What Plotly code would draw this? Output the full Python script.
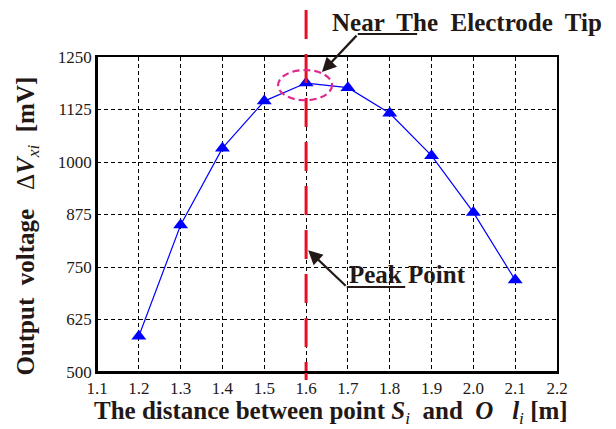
import plotly.graph_objects as go

# Measured output voltage along the line between point S_i and O l_i
distance_m = [1.2, 1.3, 1.4, 1.5, 1.6, 1.7, 1.8, 1.9, 2.0, 2.1]
voltage_mv = [585, 850, 1033, 1145, 1188, 1177, 1116, 1015, 880, 719]

x_ticks = [1.1, 1.2, 1.3, 1.4, 1.5, 1.6, 1.7, 1.8, 1.9, 2.0, 2.1, 2.2]
y_ticks = [500, 625, 750, 875, 1000, 1125, 1250]

peak_x = 1.6

SERIF = "Liberation Serif, Times New Roman, serif"
INK = "#231815"

fig = go.Figure()

fig.add_trace(go.Scatter(
    x=distance_m, y=voltage_mv,
    mode="lines+markers",
    line=dict(color="#0000ff", width=1.2),
    marker=dict(symbol="triangle-up", size=13, color="#0000ff"),
    showlegend=False,
    cliponaxis=False,
))

shapes = [
    # vertical marker through the peak, running past the plot frame
    dict(type="line", xref="x", yref="paper", x0=peak_x, x1=peak_x,
         y0=1.149, y1=-0.025,
         line=dict(color="#e60f26", width=3, dash="29px,15px")),
    # dashed ellipse around the peak
    dict(type="circle", xref="x", yref="y",
         x0=1.533, x1=1.662, y0=1147, y1=1219,
         line=dict(color="#e0288c", width=2.2, dash="7px,4px")),
    # leader underlines
    dict(type="line", xref="paper", yref="paper", x0=0.567, x1=0.696,
         y0=1.073, y1=1.073, line=dict(color=INK, width=2)),
    dict(type="line", xref="paper", yref="paper", x0=0.543, x1=0.670,
         y0=0.270, y1=0.270, line=dict(color=INK, width=2)),
    # heavier left and bottom frame edges
    dict(type="line", xref="paper", yref="paper", x0=0, x1=1, y0=0, y1=0,
         line=dict(color="black", width=2)),
    dict(type="line", xref="paper", yref="paper", x0=0, x1=0, y0=0, y1=1,
         line=dict(color="black", width=2)),
]


def label(x, y, text, size=25, angle=0):
    return dict(x=x, y=y, xref="paper", yref="paper", showarrow=False,
                xanchor="center", yanchor="middle", textangle=angle,
                text=text, font=dict(family=SERIF, size=size, color=INK))


annotations = [
    dict(x=1.638, y=1214, xref="x", yref="y", ax=36, ay=-38, text="",
         showarrow=True, arrowhead=2, arrowsize=1.3, arrowwidth=2.2,
         arrowcolor=INK),
    dict(x=1.605, y=790, xref="x", yref="y", ax=39, ay=37, text="",
         showarrow=True, arrowhead=2, arrowsize=1.3, arrowwidth=2.2,
         arrowcolor=INK),
    label(0.804, 1.111, "<b>Near  The  Electrode  Tip</b>"),
    label(0.674, 0.311, "<b>Peak Point</b>"),
    label(0.508, -0.127,
          "<b>The distance between point <i>S</i></b><sub><i>i</i></sub>"
          "<b>  and  <i>O</i>   <i>l</i></b><sub><i>i</i></sub><b> [m]</b>"),
    label(-0.152, 0.462,
          "<b>Output  voltage</b>   Δ<b><i>V</i></b><sub><i>xi</i></sub>"
          "  <b>[mV]</b>", angle=-90),
]

axis_common = dict(
    showline=True, mirror=True, linecolor="black", linewidth=1.5,
    showgrid=True, gridcolor="black", gridwidth=1, griddash="4px,3px",
    zeroline=False, ticks="",
    tickfont=dict(family=SERIF, size=17, color=INK),
)

fig.update_layout(
    width=616, height=429,
    margin=dict(l=97, r=59, t=57, b=57),
    paper_bgcolor="white", plot_bgcolor="white",
    xaxis=dict(range=[1.1, 2.2], tickvals=x_ticks,
               ticktext=[f"{v:.1f}" for v in x_ticks], **axis_common),
    yaxis=dict(range=[500, 1250], tickvals=y_ticks,
               ticktext=[str(v) for v in y_ticks], **axis_common),
    shapes=shapes,
    annotations=annotations,
)

fig.write_html("out.html")
